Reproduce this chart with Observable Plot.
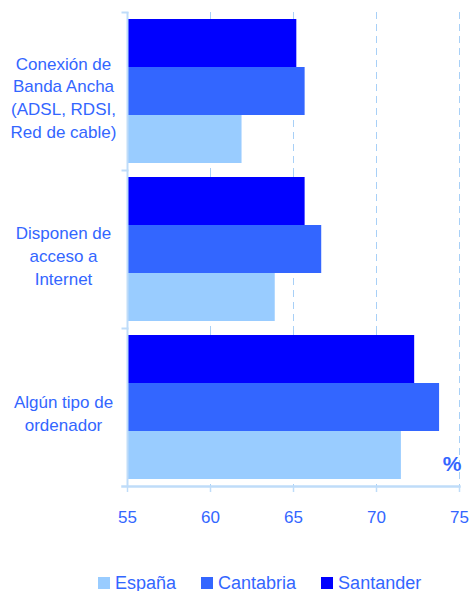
<!DOCTYPE html>
<html>
<head>
<meta charset="utf-8">
<script src="https://cdn.jsdelivr.net/npm/d3@7"></script>
<script src="https://cdn.jsdelivr.net/npm/@observablehq/plot@0.6"></script>
<style>
  body { margin: 0; background: #fff; font-family: "Liberation Sans", Arial, sans-serif; overflow: hidden; }
  #chart svg { display: block; }
  #legend { display: flex; align-items: center; margin-top: 15px; margin-left: 98px; font-size: 18px; color: #3366ff; line-height: 16px; height: 16px; }
  #legend .item { display: flex; align-items: center; margin-right: 25px; }
  #legend .sw { width: 12px; height: 12px; margin-right: 5px; display: inline-block; }
</style>
</head>
<body>
<div id="chart"></div>
<script>
const groups = [
  "Conexión de\nBanda Ancha\n(ADSL, RDSI,\nRed de cable)",
  "Disponen de\nacceso a\nInternet",
  "Algún tipo de\nordenador"
];
const series = ["Santander", "Cantabria", "España"];
const colors = ["#0000ff", "#3366ff", "#99ccff"];
const santander = [65.2, 65.7, 72.3];
const cantabria = [65.7, 66.7, 73.8];
const espana = [61.9, 63.9, 71.5];
const xTicks = [55, 60, 65, 70, 75];
const legendOrder = ["España", "Cantabria", "Santander"];

const valuesBySeries = {"Santander": santander, "Cantabria": cantabria, "España": espana};
const data = [];
groups.forEach((g, i) => series.forEach(s => data.push({group: g, series: s, value: valuesBySeries[s][i]})));

const textColor = "#3366ff";
const axisColor = "#bfdcf9";
const gridColor = "#a8d0f7";

const chart = Plot.plot({
  width: 470,
  height: 560,
  marginLeft: 127,
  marginRight: 11,
  marginTop: 11,
  marginBottom: 73,
  style: {fontFamily: "'Liberation Sans', Arial, sans-serif", background: "#fff"},
  x: {domain: [xTicks[0], xTicks[xTicks.length - 1]], axis: null},
  y: {domain: series, paddingInner: 0, paddingOuter: 0.134, axis: null},
  fy: {domain: groups, padding: 0, axis: null},
  color: {domain: series, range: colors},
  marks: [
    Plot.gridX(xTicks.slice(1), {stroke: gridColor, strokeOpacity: 1, strokeWidth: 1, strokeDasharray: "7,5"}),
    Plot.barX(data, {fy: "group", y: "series", x1: xTicks[0], x2: "value", fill: "series"}),
    Plot.ruleX([xTicks[0]], {stroke: axisColor, strokeWidth: 2}),
    Plot.frame({anchor: "top", stroke: axisColor, strokeWidth: 2, insetLeft: -5, insetRight: 332}),
    Plot.frame({anchor: "bottom", fy: groups[groups.length - 1], stroke: axisColor, strokeWidth: 2.5, insetLeft: -5}),
    Plot.axisX(xTicks, {tickSize: 6, tickPadding: 18, stroke: axisColor, strokeWidth: 1.5, fill: textColor, fontSize: 17, label: null}),
    Plot.text(groups, {fy: d => d, text: d => d, frameAnchor: "left", dx: -64, dy: 5, textAnchor: "middle", lineHeight: 1.34, fontSize: 17, fill: textColor}),
    Plot.text(["%"], {fy: () => groups[groups.length - 1], text: d => d, frameAnchor: "bottom-right", dx: 2, dy: -16, fontSize: 21, fontWeight: "bold", fill: textColor})
  ]
});
document.getElementById("chart").appendChild(chart);

const legend = document.createElement("div");
legend.id = "legend";
legendOrder.forEach(s => {
  const item = document.createElement("span");
  item.className = "item";
  const sw = document.createElement("span");
  sw.className = "sw";
  sw.style.background = colors[series.indexOf(s)];
  item.appendChild(sw);
  item.appendChild(document.createTextNode(s));
  legend.appendChild(item);
});
document.body.appendChild(legend);
</script>
</body>
</html>
